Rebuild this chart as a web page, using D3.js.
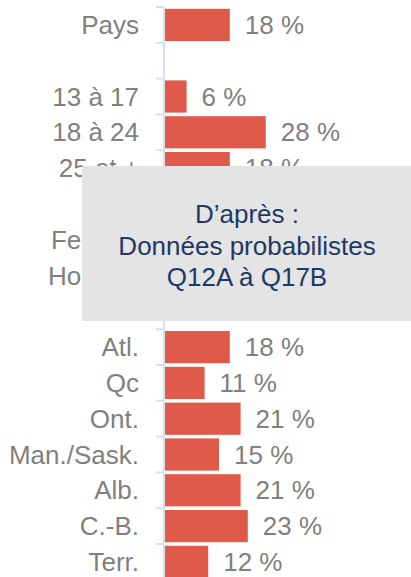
<!DOCTYPE html>
<html>
<head>
<meta charset="utf-8">
<script src="https://cdn.jsdelivr.net/npm/d3@7"></script>
<style>
  html, body { margin: 0; padding: 0; background: #ffffff; }
  svg { display: block; }
</style>
</head>
<body>
<svg id="chart" width="411" height="577"></svg>
<script>
// Data
const categories = ["Pays", "", "13 à 17", "18 à 24", "25 et +", "", "Femme", "Homme", "", "Atl.", "Qc", "Ont.", "Man./Sask.", "Alb.", "C.-B.", "Terr."];
const values     = [0.18, null, 0.06, 0.28, 0.18, null, 0.17, 0.19, null, 0.18, 0.11, 0.21, 0.15, 0.21, 0.23, 0.12];
const valueLabels = ["18 %", "", "6 %", "28 %", "18 %", "", "17 %", "19 %", "", "18 %", "11 %", "21 %", "15 %", "21 %", "23 %", "12 %"];
const noteLines = ["D\u2019après :", "Données probabilistes", "Q12A à Q17B"];

const rows = categories.map((c, i) => ({ key: "k" + i, label: c, value: values[i], text: valueLabels[i] }));

const svg = d3.select("#chart");
const font = "'Liberation Sans', Arial, sans-serif";

const y = d3.scaleBand()
  .domain(rows.map(d => d.key))
  .range([7, 7 + 16 * 35.8])
  .paddingInner(0.1)
  .paddingOuter(0.05);

const x = d3.scaleLinear().domain([0, 0.3]).range([165, 165 + 108]);

const off = (y.step() - y.bandwidth()) / 2;

// Bars
svg.append("g").selectAll("rect")
  .data(rows.filter(d => d.value != null))
  .join("rect")
  .attr("x", x(0))
  .attr("y", d => y(d.key))
  .attr("width", d => x(d.value) - x(0))
  .attr("height", y.bandwidth())
  .attr("fill", "#e05a4a");

// Axis line + boundary ticks
const axisG = svg.append("g").attr("stroke", "#d6e0f0").attr("stroke-width", 2);
const boundaries = rows.map(d => y(d.key) - off).concat([y(rows[rows.length - 1].key) + y.bandwidth() + off]);
axisG.append("line")
  .attr("x1", 164).attr("x2", 164)
  .attr("y1", boundaries[0]).attr("y2", boundaries[boundaries.length - 1]);
axisG.selectAll("line.tick")
  .data(boundaries)
  .join("line")
  .attr("class", "tick")
  .attr("x1", 156).attr("x2", 164)
  .attr("y1", d => d).attr("y2", d => d);

// Category labels
svg.append("g").selectAll("text")
  .data(rows.filter(d => d.label))
  .join("text")
  .attr("x", 139)
  .attr("y", d => y(d.key) + y.bandwidth() / 2)
  .attr("dy", "0.35em")
  .attr("text-anchor", "end")
  .attr("font-family", font)
  .attr("font-size", 26)
  .attr("fill", "#808080")
  .text(d => d.label);

// Value labels
svg.append("g").selectAll("text")
  .data(rows.filter(d => d.value != null))
  .join("text")
  .attr("x", d => x(d.value) + 15)
  .attr("y", d => y(d.key) + y.bandwidth() / 2)
  .attr("dy", "0.35em")
  .attr("font-family", font)
  .attr("font-size", 26)
  .attr("fill", "#808080")
  .text(d => d.text);

// Overlay note box
const note = svg.append("g");
note.append("rect")
  .attr("x", 82).attr("y", 166)
  .attr("width", 340).attr("height", 155)
  .attr("fill", "#e4e4e4");
note.selectAll("text")
  .data(noteLines)
  .join("text")
  .attr("x", 247)
  .attr("y", (d, i) => 223 + i * 31.5)
  .attr("text-anchor", "middle")
  .attr("font-family", font)
  .attr("font-size", 26)
  .attr("fill", "#1f3864")
  .text(d => d);
</script>
</body>
</html>
